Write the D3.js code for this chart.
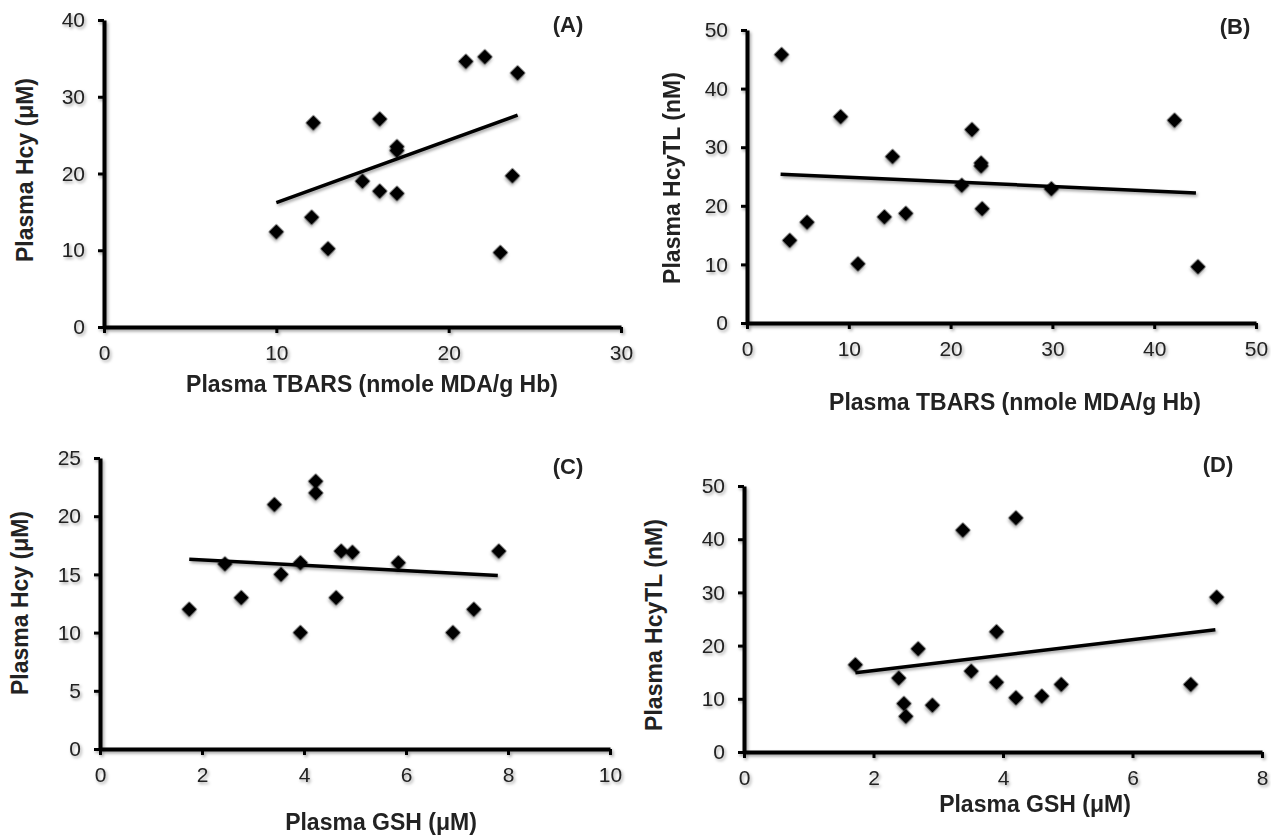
<!DOCTYPE html>
<html lang='en'>
	<head>
		<meta charset='utf-8'>
		<title>Hcy / HcyTL vs TBARS and GSH</title>
		<script type='text/javascript' src='https://cdn.jsdelivr.net/npm/d3@7'></script>
		<style>
			body { margin: 0; background: #fff; }
			text { font-family: 'Liberation Sans', Arial, sans-serif; fill: #222; }
		</style>
	</head>
	<body>
	</body>
	<script type='text/javascript'>
	// panel A: plasma TBARS vs plasma Hcy
	var a_x = [10, 12.05, 12.15, 13, 15, 16, 16, 17, 17, 17, 21, 22.1, 23, 23.7, 24];
	var a_y = [12.4, 14.3, 26.6, 10.2, 19, 17.7, 27.1, 17.4, 23.5, 23, 34.6, 35.2, 9.7, 19.7, 33.1];
	var a_fit_x = [10, 24], a_fit_y = [16.2, 27.6];
	var a_ticks_x = [0, 10, 20, 30], a_ticks_y = [0, 10, 20, 30, 40];

	// panel B: plasma TBARS vs plasma HcyTL
	var b_x = [3.4, 4.2, 5.9, 9.2, 10.9, 13.5, 14.3, 15.6, 21.1, 22.1, 23, 23, 23.1, 29.9, 42, 44.3];
	var b_y = [45.8, 14.1, 17.2, 35.2, 10.1, 18.1, 28.4, 18.7, 23.5, 33, 27.3, 26.8, 19.5, 22.9, 34.6, 9.6];
	var b_fit_x = [3.3, 44.1], b_fit_y = [25.4, 22.2];
	var b_ticks_x = [0, 10, 20, 30, 40, 50], b_ticks_y = [0, 10, 20, 30, 40, 50];

	// panel C: plasma GSH vs plasma Hcy
	var c_x = [1.75, 2.45, 2.77, 3.42, 3.55, 3.93, 3.93, 4.23, 4.23, 4.63, 4.73, 4.95, 5.85, 6.92, 7.33, 7.82];
	var c_y = [12, 15.9, 13, 21, 15, 16, 10, 23, 22, 13, 17, 16.9, 16, 10, 12, 17];
	var c_fit_x = [1.75, 7.8], c_fit_y = [16.3, 14.9];
	var c_ticks_x = [0, 2, 4, 6, 8, 10], c_ticks_y = [0, 5, 10, 15, 20, 25];

	// panel D: plasma GSH vs plasma HcyTL
	var d_x = [1.72, 2.39, 2.47, 2.5, 2.69, 2.91, 3.38, 3.51, 3.9, 3.9, 4.2, 4.2, 4.6, 4.9, 6.9, 7.3];
	var d_y = [16.4, 13.9, 9.1, 6.7, 19.4, 8.8, 41.7, 15.2, 22.6, 13.1, 44, 10.2, 10.5, 12.7, 12.7, 29.1];
	var d_fit_x = [1.72, 7.28], d_fit_y = [14.9, 23];
	var d_ticks_x = [0, 2, 4, 6, 8], d_ticks_y = [0, 10, 20, 30, 40, 50];

	var width = 1271, height = 838;
	var svg = d3.select('body').append('svg').attr('width', width).attr('height', height);

	svg.append('defs').append('filter').attr('id', 'shadow')
		.attr('x', '-50%').attr('y', '-50%').attr('width', '200%').attr('height', '200%')
		.append('feDropShadow')
		.attr('dx', 1.5).attr('dy', 2).attr('stdDeviation', 1.5)
		.attr('flood-color', '#000').attr('flood-opacity', 0.35);

	var panels = [
		{xs: a_x, ys: a_y, fx: a_fit_x, fy: a_fit_y, tx: a_ticks_x, ty: a_ticks_y,
		 x0: 104, x1: 621, y0: 327, y1: 20, tag: '(A)', tagx: 568, tagy: 32,
		 xlab: 'Plasma TBARS (nmole MDA/g Hb)', xlx: 372, xly: 392,
		 ylab: 'Plasma Hcy (μM)', ylx: 33, yly: 170},
		{xs: b_x, ys: b_y, fx: b_fit_x, fy: b_fit_y, tx: b_ticks_x, ty: b_ticks_y,
		 x0: 747, x1: 1256, y0: 323, y1: 30, tag: '(B)', tagx: 1235, tagy: 34,
		 xlab: 'Plasma TBARS (nmole MDA/g Hb)', xlx: 1015, xly: 410,
		 ylab: 'Plasma HcyTL (nM)', ylx: 680, yly: 178},
		{xs: c_x, ys: c_y, fx: c_fit_x, fy: c_fit_y, tx: c_ticks_x, ty: c_ticks_y,
		 x0: 100, x1: 610, y0: 749, y1: 458, tag: '(C)', tagx: 568, tagy: 474,
		 xlab: 'Plasma GSH (μM)', xlx: 381, xly: 830,
		 ylab: 'Plasma Hcy (μM)', ylx: 28, yly: 603},
		{xs: d_x, ys: d_y, fx: d_fit_x, fy: d_fit_y, tx: d_ticks_x, ty: d_ticks_y,
		 x0: 744, x1: 1262, y0: 752, y1: 486, tag: '(D)', tagx: 1218, tagy: 472,
		 xlab: 'Plasma GSH (μM)', xlx: 1035, xly: 812,
		 ylab: 'Plasma HcyTL (nM)', ylx: 662, yly: 625}
	];

	var diamond = d3.symbol().type(d3.symbolSquare).size(118);

	panels.forEach(function(p) {
		var x_scale = d3.scaleLinear().domain(d3.extent(p.tx)).range([p.x0, p.x1]);
		var y_scale = d3.scaleLinear().domain(d3.extent(p.ty)).range([p.y0, p.y1]);
		var g = svg.append('g');

		var xa = g.append('g')
			.attr('transform', 'translate(0,' + p.y0 + ')')
			.call(d3.axisBottom(x_scale).tickValues(p.tx).tickSize(6).tickSizeOuter(0).tickPadding(12));
		var ya = g.append('g')
			.attr('transform', 'translate(' + p.x0 + ',0)')
			.call(d3.axisLeft(y_scale).tickValues(p.ty).tickSize(6).tickSizeOuter(0).tickPadding(13));
		[xa, ya].forEach(function(ax) {
			ax.attr('filter', 'url(#shadow)');
			ax.select('.domain').attr('stroke', '#000').attr('stroke-width', 4);
			ax.selectAll('.tick line').attr('stroke', '#000').attr('stroke-width', 3);
			ax.selectAll('.tick text').attr('font-size', 21).attr('fill', '#222')
				.attr('font-family', "'Liberation Sans', Arial, sans-serif");
		});

		var pts = p.xs.map(function(v, i) { return [v, p.ys[i]]; });
		g.selectAll('.pt').data(pts).enter().append('path')
			.attr('class', 'pt')
			.attr('d', diamond)
			.attr('transform', d => 'translate(' + x_scale(d[0]) + ',' + y_scale(d[1]) + ') rotate(45)')
			.attr('fill', '#000')
			.attr('filter', 'url(#shadow)');

		var fit = p.fx.map(function(v, i) { return [v, p.fy[i]]; });
		g.append('path')
			.attr('d', d3.line().x(d => x_scale(d[0])).y(d => y_scale(d[1]))(fit))
			.attr('stroke', '#000').attr('stroke-width', 3.5).attr('fill', 'none')
			.attr('filter', 'url(#shadow)');

		g.append('text').text(p.tag)
			.attr('x', p.tagx).attr('y', p.tagy)
			.attr('text-anchor', 'middle').attr('font-size', 22).attr('font-weight', 'bold');

		g.append('text').text(p.xlab)
			.attr('x', p.xlx).attr('y', p.xly)
			.attr('text-anchor', 'middle').attr('font-size', 23).attr('font-weight', 'bold');

		g.append('text').text(p.ylab)
			.attr('transform', 'translate(' + p.ylx + ',' + p.yly + ')rotate(-90)')
			.attr('text-anchor', 'middle').attr('font-size', 23).attr('font-weight', 'bold');
	});
	</script>
</html>
